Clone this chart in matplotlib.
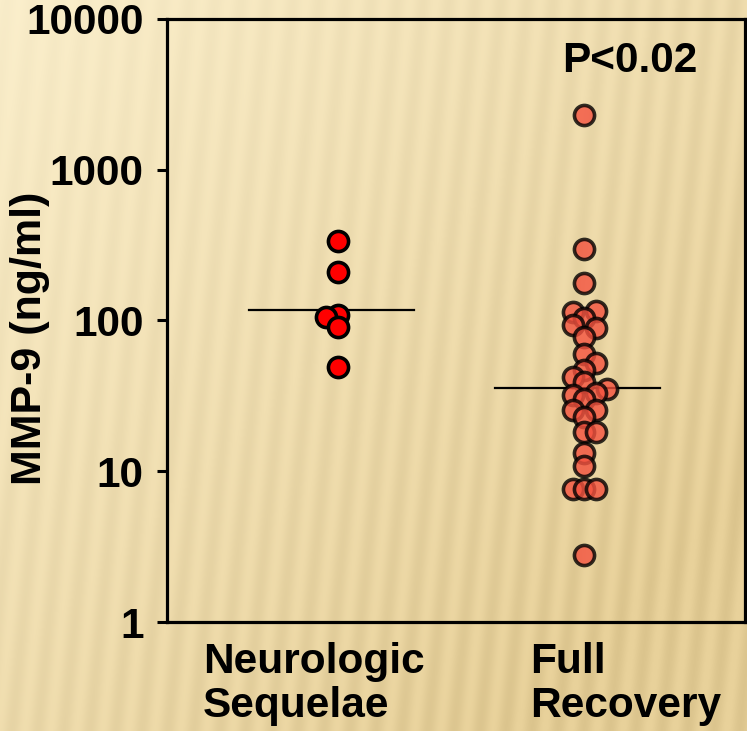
import matplotlib
matplotlib.use('Agg')
import matplotlib.pyplot as plt
import numpy as np

plt.rcParams['font.family'] = ['Liberation Sans', 'DejaVu Sans']
plt.rcParams['font.weight'] = 'bold'

# data
groups = ["Neurologic\nSequelae", "Full\nRecovery"]
neuro_vals = [335, 210, 108, 105, 91, 49]
neuro_slot = [0, 0, 0, -1, 0, 0]
full_vals = [2300, 298, 177, 114, 116, 104, 93, 89, 78, 60, 52, 47, 42, 39,
             35, 32, 33, 30, 25.5, 25.5, 23, 18.2, 18.2, 13.3, 10.8,
             7.6, 7.6, 7.6, 2.8]
full_slot = [0, 0, 0, -1, 1, 0, -1, 1, 0, 0, 1, 0, -1, 0,
             2, -1, 1, 0, -1, 1, 0, 0, 1, 0, 0,
             -1, 0, 1, 0]
medians = [117, 35.6]
y_ticks = [1, 10, 100, 1000, 10000]
p_text = "P<0.02"

fig = plt.figure(figsize=(7.47, 7.31), dpi=100)

# beige striped backdrop
bg = fig.add_axes([0, 0, 1, 1], zorder=-1)
h, w = 731, 747
yy, xx = np.mgrid[0:h, 0:w]
stripe = np.sin(2 * np.pi * (xx + 0.10 * yy) / 26.0)
grad = np.clip((xx / w) * 0.6 + (yy / h) * 0.6, 0, 1)
light = np.array([251, 239, 204]) / 255
dark = np.array([233, 210, 155]) / 255
img = light[None, None, :] * (1 - grad[..., None]) + dark[None, None, :] * grad[..., None]
img = img - 0.04 * (0.5 + 0.5 * stripe[..., None]) * (0.3 + grad[..., None])
bg.imshow(np.clip(img, 0, 1), aspect='auto', extent=[0, 1, 0, 1])
bg.axis('off')

ax = fig.add_axes([0.2236, 0.1491, 0.7737, 0.825])
ax.set_facecolor('none')

step = 0.047
x1 = [0 + s * step for s in neuro_slot]
x2 = [1 + s * step for s in full_slot]
ax.scatter(x1, neuro_vals, s=210, color='#ff0000', edgecolor='black',
           linewidth=2.6, zorder=3)
ax.scatter(x2, full_vals, s=210, color='#f4523f', alpha=0.8,
           edgecolor='black', linewidth=2.6, zorder=3)
for i, m in enumerate(medians):
    ax.plot([i - 0.36, i + 0.31], [m, m], color='black', lw=1.6, zorder=2)

ax.set_yscale('log')
ax.set_ylim(1, 10000)
ax.set_xlim(-0.695, 1.654)
ax.set_yticks(y_ticks)
ax.set_yticklabels([str(t) for t in y_ticks])
ax.yaxis.set_minor_locator(matplotlib.ticker.NullLocator())
ax.tick_params(axis='y', length=7, width=2.2, labelsize=30.5, pad=10)
ax.set_xticks([])
for sp in ax.spines.values():
    sp.set_linewidth(2.3)

ax.set_ylabel("MMP-9 (ng/ml)", fontsize=31, fontweight='bold')
ax.yaxis.set_label_coords(-0.203, 0.471)

ax.text(0.062, -0.033, groups[0], transform=ax.transAxes, ha='left', va='top',
        fontsize=30.5, linespacing=1.12, multialignment='left')
ax.text(0.628, -0.033, groups[1], transform=ax.transAxes, ha='left', va='top',
        fontsize=30.5, linespacing=1.12, multialignment='left')
ax.text(0.8, 0.93, p_text, transform=ax.transAxes, ha='center', va='center',
        fontsize=30.5)

fig.savefig('out.png', dpi=100)
